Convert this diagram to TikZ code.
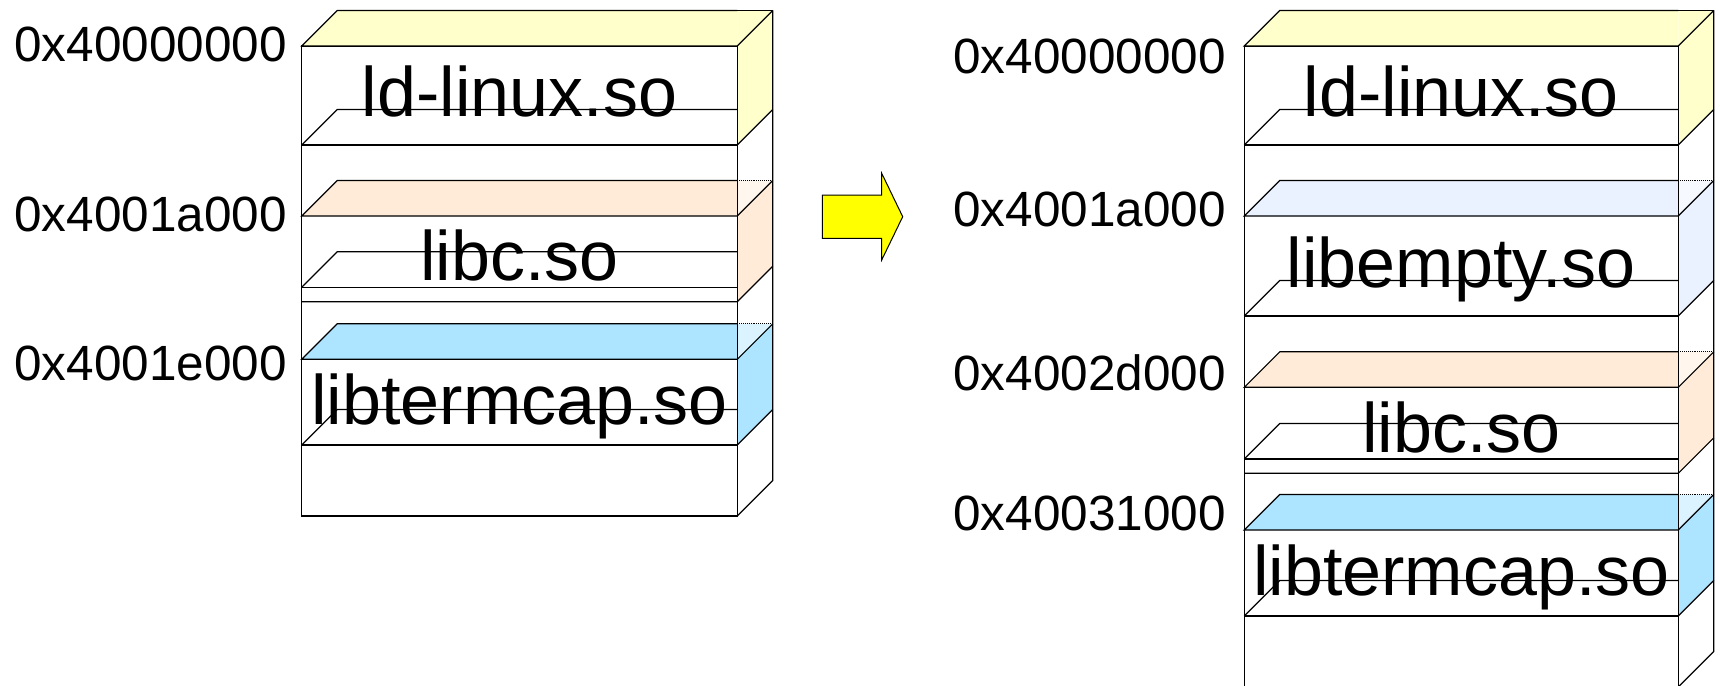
\documentclass[tikz,border=0pt]{standalone}
\usepackage{fontspec}
\setmainfont{Liberation Sans}

\definecolor{ldcol}{HTML}{FFFFCC}
\definecolor{libccol}{HTML}{FFEBD7}
\definecolor{emptycol}{HTML}{EAF2FF}
\definecolor{termcol}{HTML}{ADE4FF}
\definecolor{arrowcol}{HTML}{FFFF00}

\tikzset{
  edge/.style={draw=black, line width=1.2pt},
  libname/.style={font=\fontsize{70}{84}\selectfont, anchor=base, inner sep=0pt},
  addr/.style={font=\fontsize{49.5}{60}\selectfont, anchor=base east, inner sep=0pt},
}

% One library segment of a memory column, drawn as a flat 3-D slab.
% #1 left x, #2 right x, #3 top y, #4 inner bottom y, #5 side bottom y,
% #6 fill colour, #7 colour of the hidden back corner, #8 style of its back edge
\newcommand\memslab[8]{%
  \fill[#6] (#1,#3) -- (#2,#3) -- (#2,#3-35.5) -- (#1+35.5,#3-35.5) -- cycle;
  \fill[#7] (#2,#3-35.5) -- (#2+35.5,#3-35.5) -- (#2,#3) -- cycle;
  \fill[#6] (#2,#3) -- (#2+35.5,#3-35.5) -- (#2+35.5,#5-35.5) -- (#2,#5) -- cycle;
  \draw[edge] (#2,#3) -- (#1,#3) -- (#1+35.5,#3-35.5) -- (#2,#3-35.5);
  \draw[edge, line width=0.9pt, #8] (#2,#3-35.5) -- (#2+35.5,#3-35.5);
  \draw[edge] (#2,#3) -- (#2+35.5,#3-35.5);
  \draw[edge] (#1,#4) -- (#1+35.5,#4-35.5) -- (#2,#4-35.5);
  \draw[edge] (#1,#4) -- (#2,#4);
  \draw[edge] (#1,#5) -- (#2,#5) -- (#2+35.5,#5-35.5);
}

% Outer box of a memory column: #1 left x, #2 right x, #3 bottom y
\newcommand\memcolumn[3]{%
  \draw[edge, fill=white] (#1,46) rectangle (#2,#3);
  \draw[edge] (#2+35.5,10.5) -- (#2+35.5,#3-35.5) -- (#2,#3);
}
\newcommand\memedges[3]{%
  \draw[edge] (#1,46) -- (#1,#3);
  \draw[edge] (#2,46) -- (#2,#3);
  \draw[edge] (#2+35.5,10.5) -- (#2+35.5,#3-35.5);
}

\begin{document}
\begin{tikzpicture}[x=1pt, y=-1pt]
\useasboundingbox (0,0) rectangle (1720,685);

% ---------- address space before ----------
\memcolumn{301.7}{737.3}{516}
\memslab{301.7}{737.3}{46}{145}{145}{ldcol}{ldcol}{solid}
\memslab{301.7}{737.3}{216}{287.3}{301.7}{libccol}{libccol!45!white}{densely dotted}
\memslab{301.7}{737.3}{359.3}{445}{445}{termcol}{termcol!45!white}{densely dotted}
\memedges{301.7}{737.3}{516}

\node[libname] (ldA)   at (519.5,116.7) {ld-linux.so};
\node[libname] (libcA) at (519.5,280)   {libc.so};
\node[libname] (termA) at (519.5,424)   {libtermcap.so};

\node[addr] (aA1) at (287,61.7)  {0x40000000};
\node[addr] (aA2) at (287,231.7) {0x4001a000};
\node[addr] (aA3) at (287,380)   {0x4001e000};

% ---------- transition arrow ----------
\draw[edge, line width=1pt, fill=arrowcol]
  (822.3,195) -- (881.7,195) -- (881.7,173.3) -- (902.7,216.7)
  -- (881.7,260) -- (881.7,238.3) -- (822.3,238.3) -- cycle;

% ---------- address space after ----------
\memcolumn{1244.3}{1678.3}{687}
\memslab{1244.3}{1678.3}{46}{145}{145}{ldcol}{ldcol}{solid}
\memslab{1244.3}{1678.3}{216}{316}{316}{emptycol}{emptycol!45!white}{densely dotted}
\memslab{1244.3}{1678.3}{387.3}{459}{473.3}{libccol}{libccol!45!white}{densely dotted}
\memslab{1244.3}{1678.3}{530}{616}{616}{termcol}{termcol!45!white}{densely dotted}
\memedges{1244.3}{1678.3}{687}

\node[libname] (ldB)    at (1461.3,116.7) {ld-linux.so};
\node[libname] (emptyB) at (1461.3,287.5) {libempty.so};
\node[libname] (libcB)  at (1461.3,452.7) {libc.so};
\node[libname] (termB)  at (1461.3,595)   {libtermcap.so};

\node[addr] (aB1) at (1226,73.3)  {0x40000000};
\node[addr] (aB2) at (1226,226.7) {0x4001a000};
\node[addr] (aB3) at (1226,390.7) {0x4002d000};
\node[addr] (aB4) at (1226,530)   {0x40031000};
\end{tikzpicture}
\end{document}
